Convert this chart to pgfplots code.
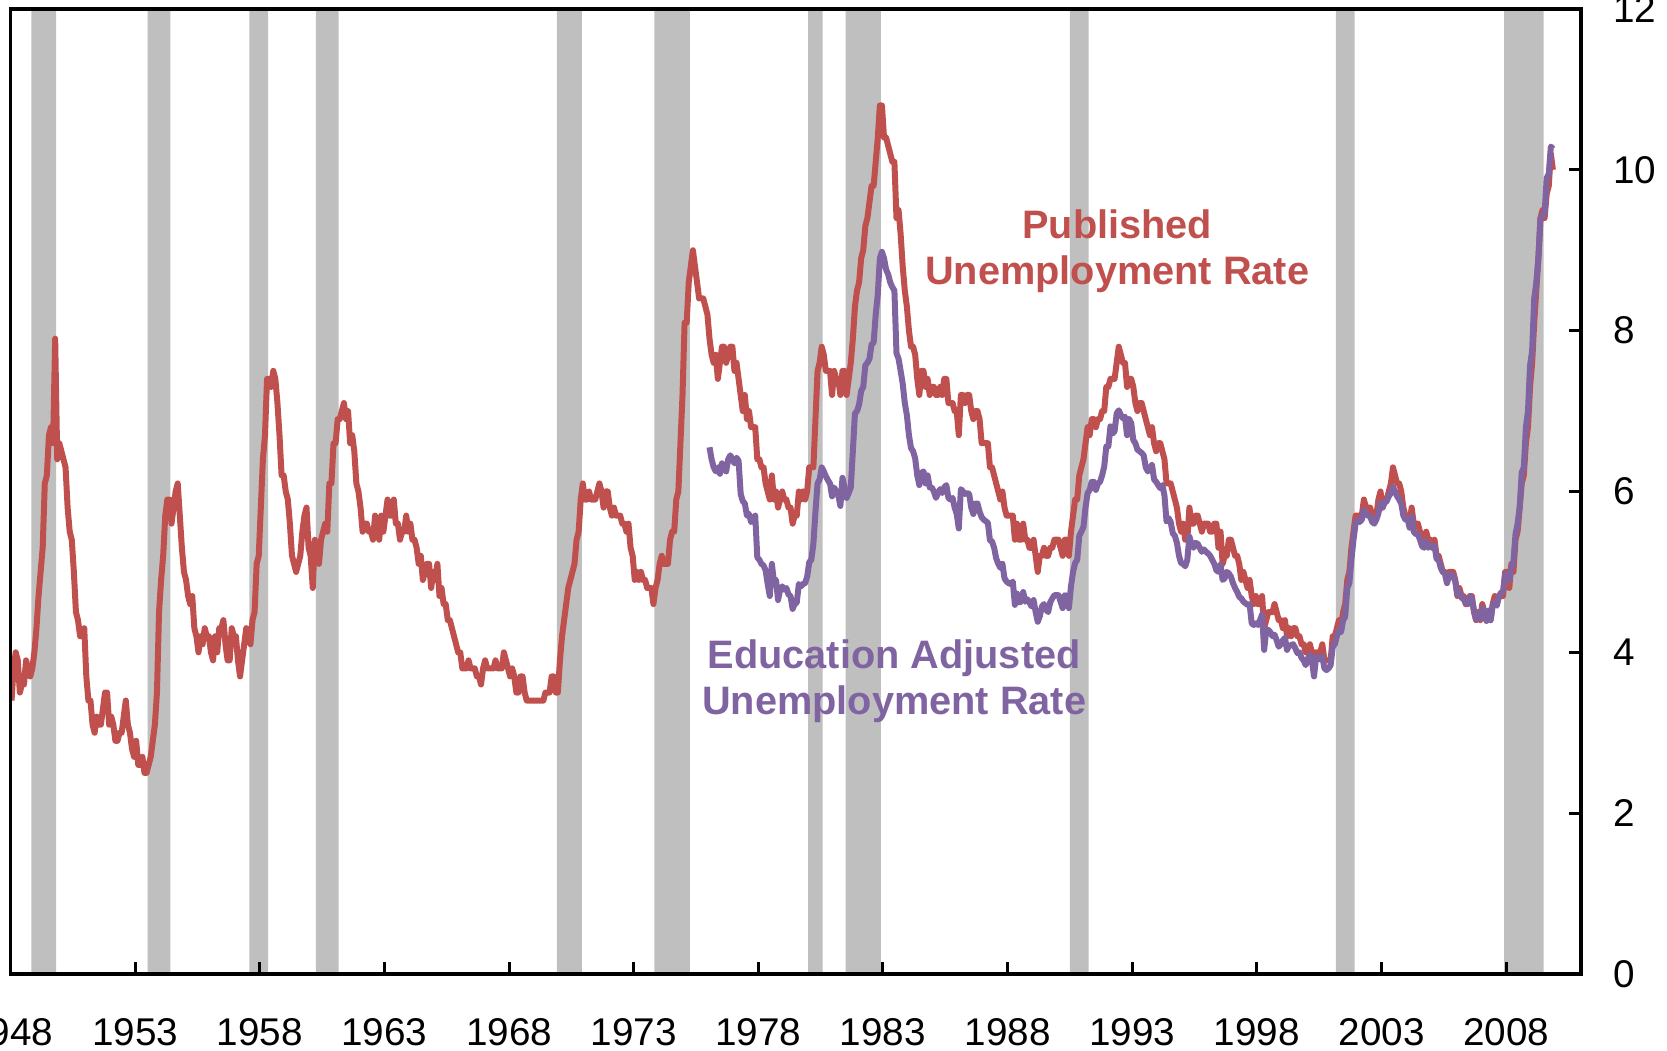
\documentclass[border=0pt]{standalone}
\usepackage{pgfplots}
\usepackage{pgfplotstable}
\usepackage{fontspec}
\setmainfont{Liberation Sans}
\pgfplotsset{compat=1.18}
\definecolor{pubred}{HTML}{C0504D}
\definecolor{edupurple}{HTML}{8064A2}
\definecolor{recgray}{HTML}{BFBFBF}

% Published unemployment rate, monthly, Jan 1948 - Nov 2009
\pgfplotstableread[row sep=\\,col sep=&]{
u\\
3.4\\3.8\\4.0\\3.9\\3.5\\3.6\\3.6\\3.9\\3.8\\3.7\\3.8\\4.0\\
4.3\\4.7\\5.0\\5.3\\6.1\\6.2\\6.7\\6.8\\6.6\\7.9\\6.4\\6.6\\
6.5\\6.4\\6.3\\5.8\\5.5\\5.4\\5.0\\4.5\\4.4\\4.2\\4.2\\4.3\\
3.7\\3.4\\3.4\\3.1\\3.0\\3.2\\3.1\\3.1\\3.3\\3.5\\3.5\\3.1\\
3.2\\3.1\\2.9\\2.9\\3.0\\3.0\\3.2\\3.4\\3.1\\3.0\\2.8\\2.7\\
2.9\\2.6\\2.6\\2.7\\2.5\\2.5\\2.6\\2.7\\2.9\\3.1\\3.5\\4.5\\
4.9\\5.2\\5.7\\5.9\\5.9\\5.6\\5.8\\6.0\\6.1\\5.7\\5.3\\5.0\\
4.9\\4.7\\4.6\\4.7\\4.3\\4.2\\4.0\\4.2\\4.1\\4.3\\4.2\\4.2\\
4.0\\3.9\\4.2\\4.0\\4.3\\4.3\\4.4\\4.1\\3.9\\3.9\\4.3\\4.2\\
4.2\\3.9\\3.7\\3.9\\4.1\\4.3\\4.2\\4.1\\4.4\\4.5\\5.1\\5.2\\
5.8\\6.4\\6.7\\7.4\\7.4\\7.3\\7.5\\7.4\\7.1\\6.7\\6.2\\6.2\\
6.0\\5.9\\5.6\\5.2\\5.1\\5.0\\5.1\\5.2\\5.5\\5.7\\5.8\\5.3\\
5.2\\4.8\\5.4\\5.2\\5.1\\5.4\\5.5\\5.6\\5.5\\6.1\\6.1\\6.6\\
6.6\\6.9\\6.9\\7.0\\7.1\\6.9\\7.0\\6.6\\6.7\\6.5\\6.1\\6.0\\
5.8\\5.5\\5.6\\5.6\\5.5\\5.5\\5.4\\5.7\\5.6\\5.4\\5.7\\5.5\\
5.7\\5.9\\5.7\\5.7\\5.9\\5.6\\5.6\\5.4\\5.5\\5.5\\5.7\\5.5\\
5.6\\5.4\\5.4\\5.3\\5.1\\5.2\\4.9\\5.0\\5.1\\5.1\\4.8\\5.0\\
4.9\\5.1\\4.7\\4.8\\4.6\\4.6\\4.4\\4.4\\4.3\\4.2\\4.1\\4.0\\
4.0\\3.8\\3.8\\3.8\\3.9\\3.8\\3.8\\3.8\\3.7\\3.7\\3.6\\3.8\\
3.9\\3.8\\3.8\\3.8\\3.8\\3.9\\3.8\\3.8\\3.8\\4.0\\3.9\\3.8\\
3.7\\3.8\\3.7\\3.5\\3.5\\3.7\\3.7\\3.5\\3.4\\3.4\\3.4\\3.4\\
3.4\\3.4\\3.4\\3.4\\3.4\\3.5\\3.5\\3.5\\3.7\\3.7\\3.5\\3.5\\
3.9\\4.2\\4.4\\4.6\\4.8\\4.9\\5.0\\5.1\\5.4\\5.5\\5.9\\6.1\\
5.9\\5.9\\6.0\\5.9\\5.9\\5.9\\6.0\\6.1\\6.0\\5.8\\6.0\\6.0\\
5.8\\5.7\\5.8\\5.7\\5.7\\5.7\\5.6\\5.6\\5.5\\5.6\\5.3\\5.2\\
4.9\\5.0\\4.9\\5.0\\4.9\\4.9\\4.8\\4.8\\4.8\\4.6\\4.8\\4.9\\
5.1\\5.2\\5.1\\5.1\\5.1\\5.4\\5.5\\5.5\\5.9\\6.0\\6.6\\7.2\\
8.1\\8.1\\8.6\\8.8\\9.0\\8.8\\8.6\\8.4\\8.4\\8.4\\8.3\\8.2\\
7.9\\7.7\\7.6\\7.7\\7.4\\7.6\\7.8\\7.8\\7.6\\7.7\\7.8\\7.8\\
7.5\\7.6\\7.4\\7.2\\7.0\\7.2\\6.9\\7.0\\6.8\\6.8\\6.8\\6.4\\
6.4\\6.3\\6.3\\6.1\\6.0\\5.9\\6.2\\5.9\\6.0\\5.8\\5.9\\6.0\\
5.9\\5.9\\5.8\\5.8\\5.6\\5.7\\5.7\\6.0\\5.9\\6.0\\5.9\\6.0\\
6.3\\6.3\\6.3\\6.9\\7.5\\7.6\\7.8\\7.7\\7.5\\7.5\\7.5\\7.2\\
7.5\\7.4\\7.4\\7.2\\7.5\\7.5\\7.2\\7.4\\7.6\\7.9\\8.3\\8.5\\
8.6\\8.9\\9.0\\9.3\\9.4\\9.6\\9.8\\9.8\\10.1\\10.4\\10.8\\10.8\\
10.4\\10.4\\10.3\\10.2\\10.1\\10.1\\9.4\\9.5\\9.2\\8.8\\8.5\\8.3\\
8.0\\7.8\\7.8\\7.7\\7.4\\7.2\\7.5\\7.5\\7.3\\7.4\\7.2\\7.3\\
7.3\\7.2\\7.2\\7.3\\7.2\\7.4\\7.4\\7.1\\7.1\\7.1\\7.0\\7.0\\
6.7\\7.2\\7.2\\7.1\\7.2\\7.2\\7.0\\6.9\\7.0\\7.0\\6.9\\6.6\\
6.6\\6.6\\6.6\\6.3\\6.3\\6.2\\6.1\\6.0\\5.9\\6.0\\5.8\\5.7\\
5.7\\5.7\\5.7\\5.4\\5.6\\5.4\\5.4\\5.6\\5.4\\5.4\\5.3\\5.3\\
5.4\\5.2\\5.0\\5.2\\5.2\\5.3\\5.2\\5.2\\5.3\\5.3\\5.4\\5.4\\
5.4\\5.3\\5.2\\5.4\\5.4\\5.2\\5.5\\5.7\\5.9\\5.9\\6.2\\6.3\\
6.4\\6.6\\6.8\\6.7\\6.9\\6.9\\6.8\\6.9\\6.9\\7.0\\7.0\\7.3\\
7.3\\7.4\\7.4\\7.4\\7.6\\7.8\\7.7\\7.6\\7.6\\7.3\\7.4\\7.4\\
7.3\\7.1\\7.0\\7.1\\7.1\\7.0\\6.9\\6.8\\6.7\\6.8\\6.6\\6.5\\
6.6\\6.6\\6.5\\6.4\\6.1\\6.1\\6.1\\6.0\\5.9\\5.8\\5.6\\5.5\\
5.6\\5.4\\5.4\\5.8\\5.6\\5.6\\5.7\\5.7\\5.6\\5.5\\5.6\\5.6\\
5.6\\5.5\\5.5\\5.6\\5.6\\5.3\\5.5\\5.1\\5.2\\5.2\\5.4\\5.4\\
5.3\\5.2\\5.2\\5.1\\4.9\\5.0\\4.9\\4.8\\4.9\\4.7\\4.6\\4.7\\
4.6\\4.6\\4.7\\4.3\\4.4\\4.5\\4.5\\4.5\\4.6\\4.5\\4.4\\4.4\\
4.3\\4.4\\4.2\\4.3\\4.2\\4.3\\4.3\\4.2\\4.2\\4.1\\4.1\\4.0\\
4.0\\4.1\\4.0\\3.8\\4.0\\4.0\\4.0\\4.1\\3.9\\3.9\\3.9\\3.9\\
4.2\\4.2\\4.3\\4.4\\4.3\\4.5\\4.6\\4.9\\5.0\\5.3\\5.5\\5.7\\
5.7\\5.7\\5.7\\5.9\\5.8\\5.8\\5.8\\5.7\\5.7\\5.7\\5.9\\6.0\\
5.8\\5.9\\5.9\\6.0\\6.1\\6.3\\6.2\\6.1\\6.1\\6.0\\5.8\\5.7\\
5.7\\5.6\\5.8\\5.6\\5.6\\5.6\\5.5\\5.4\\5.4\\5.5\\5.4\\5.4\\
5.3\\5.4\\5.2\\5.2\\5.1\\5.0\\5.0\\4.9\\5.0\\5.0\\5.0\\4.9\\
4.7\\4.8\\4.7\\4.7\\4.6\\4.6\\4.7\\4.7\\4.5\\4.4\\4.5\\4.4\\
4.6\\4.5\\4.4\\4.5\\4.4\\4.6\\4.7\\4.6\\4.7\\4.7\\4.7\\5.0\\
5.0\\4.8\\5.1\\5.0\\5.4\\5.5\\5.8\\6.1\\6.2\\6.6\\6.8\\7.3\\
7.6\\8.1\\8.5\\8.9\\9.4\\9.5\\9.4\\9.7\\9.8\\10.2\\10.0\\
}\published

% Education adjusted unemployment rate, monthly, Jan 1976 - Nov 2009
\pgfplotstableread[row sep=\\,col sep=&]{
u\\
6.55\\6.40\\6.30\\6.25\\6.30\\6.22\\6.35\\6.30\\6.25\\6.40\\6.45\\6.40\\
6.35\\6.42\\6.38\\5.97\\5.88\\5.85\\5.70\\5.72\\5.62\\5.64\\5.70\\5.18\\
5.15\\5.10\\5.08\\5.02\\4.85\\4.70\\5.10\\4.88\\4.90\\4.65\\4.78\\4.82\\
4.78\\4.80\\4.72\\4.70\\4.54\\4.60\\4.62\\4.85\\4.82\\4.85\\4.86\\4.94\\
5.12\\5.15\\5.35\\5.75\\6.10\\6.15\\6.30\\6.25\\6.19\\6.14\\6.10\\5.94\\
6.05\\6.00\\5.95\\5.82\\6.17\\6.05\\5.92\\5.98\\6.05\\6.50\\6.97\\7.00\\
7.08\\7.25\\7.30\\7.57\\7.60\\7.65\\7.83\\7.85\\8.20\\8.45\\8.90\\8.98\\
8.90\\8.76\\8.70\\8.60\\8.54\\8.50\\7.72\\7.65\\7.50\\7.34\\7.10\\6.95\\
6.70\\6.54\\6.50\\6.41\\6.20\\6.08\\6.23\\6.25\\6.10\\6.20\\6.05\\6.05\\
6.00\\5.92\\5.98\\6.03\\5.98\\6.05\\6.08\\5.92\\5.90\\5.92\\5.80\\5.72\\
5.54\\6.03\\6.00\\5.97\\5.98\\5.97\\5.80\\5.72\\5.85\\5.85\\5.75\\5.68\\
5.65\\5.63\\5.61\\5.39\\5.38\\5.30\\5.17\\5.10\\5.05\\5.10\\4.92\\4.88\\
4.86\\4.85\\4.88\\4.59\\4.73\\4.62\\4.63\\4.75\\4.63\\4.66\\4.62\\4.57\\
4.65\\4.50\\4.38\\4.45\\4.57\\4.60\\4.53\\4.50\\4.62\\4.67\\4.71\\4.71\\
4.71\\4.63\\4.55\\4.71\\4.70\\4.55\\4.82\\5.00\\5.11\\5.15\\5.45\\5.50\\
5.56\\5.80\\5.98\\6.02\\6.12\\6.12\\6.02\\6.10\\6.12\\6.20\\6.31\\6.56\\
6.56\\6.81\\6.72\\6.75\\6.97\\7.01\\6.95\\6.91\\6.93\\6.70\\6.90\\6.85\\
6.64\\6.60\\6.52\\6.50\\6.48\\6.45\\6.30\\6.25\\6.28\\6.33\\6.15\\6.12\\
6.08\\6.04\\6.08\\5.95\\5.63\\5.67\\5.62\\5.48\\5.45\\5.36\\5.20\\5.11\\
5.10\\5.07\\5.15\\5.44\\5.35\\5.30\\5.36\\5.35\\5.30\\5.25\\5.28\\5.25\\
5.23\\5.20\\5.15\\5.10\\5.02\\5.00\\5.09\\4.90\\4.92\\5.00\\4.98\\4.94\\
4.86\\4.80\\4.75\\4.69\\4.67\\4.63\\4.61\\4.59\\4.60\\4.36\\4.34\\4.36\\
4.34\\4.40\\4.47\\4.03\\4.28\\4.28\\4.25\\4.20\\4.22\\4.15\\4.07\\4.10\\
4.15\\4.18\\4.03\\4.08\\4.09\\4.10\\4.05\\3.99\\4.00\\3.93\\3.90\\3.84\\
3.92\\3.97\\3.90\\3.70\\3.95\\3.93\\3.91\\3.95\\3.80\\3.78\\3.80\\3.84\\
4.07\\4.10\\4.20\\4.28\\4.25\\4.40\\4.44\\4.80\\4.86\\5.15\\5.40\\5.60\\
5.65\\5.62\\5.65\\5.77\\5.72\\5.70\\5.69\\5.62\\5.60\\5.65\\5.73\\5.86\\
5.80\\5.86\\5.88\\5.94\\5.98\\6.06\\6.00\\5.94\\5.90\\5.85\\5.70\\5.65\\
5.66\\5.55\\5.69\\5.50\\5.47\\5.47\\5.40\\5.32\\5.30\\5.38\\5.30\\5.33\\
5.30\\5.33\\5.16\\5.15\\5.05\\5.00\\4.98\\4.86\\4.95\\4.97\\4.95\\4.88\\
4.72\\4.75\\4.68\\4.66\\4.62\\4.60\\4.70\\4.66\\4.52\\4.41\\4.47\\4.42\\
4.55\\4.47\\4.39\\4.52\\4.40\\4.58\\4.62\\4.58\\4.70\\4.74\\4.76\\4.97\\
4.91\\4.90\\5.05\\5.13\\5.47\\5.60\\5.80\\6.24\\6.30\\6.80\\7.00\\7.57\\
7.75\\8.40\\8.60\\8.90\\9.40\\9.43\\9.45\\9.90\\9.95\\10.29\\10.26\\
}\education

\begin{document}
\begin{tikzpicture}
\begin{axis}[
  at={(0,0)}, anchor=south west,
  scale only axis,
  width=157.05mm, height=96.5mm,
  xmin=1948, xmax=2011, ymin=0, ymax=12,
  axis on top,
  axis line style={line width=0.37mm, black},
  xtick={1948,1953,...,2008},
  ytick={0,2,...,12},
  xtick pos=bottom,
  ytick pos=right,
  yticklabel pos=right,
  tick align=inside,
  major tick length=1.2mm,
  minor tick num=0,
  tick style={line width=0.3mm, black},
  tick label style={font=\fontsize{11}{13}\selectfont},
  /pgf/number format/assume math mode=true,
  /pgf/number format/1000 sep={},
  xticklabel style={yshift=-3.25mm},
  yticklabel style={anchor=west, xshift=2.0mm},
  clip=true,
]
% recession bars
\addplot[fill=recgray, draw=none, forget plot] coordinates {(1948.833,0) (1948.833,12) (1949.833,12) (1949.833,0)} \closedcycle;
\addplot[fill=recgray, draw=none, forget plot] coordinates {(1953.500,0) (1953.500,12) (1954.417,12) (1954.417,0)} \closedcycle;
\addplot[fill=recgray, draw=none, forget plot] coordinates {(1957.583,0) (1957.583,12) (1958.333,12) (1958.333,0)} \closedcycle;
\addplot[fill=recgray, draw=none, forget plot] coordinates {(1960.250,0) (1960.250,12) (1961.167,12) (1961.167,0)} \closedcycle;
\addplot[fill=recgray, draw=none, forget plot] coordinates {(1969.917,0) (1969.917,12) (1970.917,12) (1970.917,0)} \closedcycle;
\addplot[fill=recgray, draw=none, forget plot] coordinates {(1973.833,0) (1973.833,12) (1975.250,12) (1975.250,0)} \closedcycle;
\addplot[fill=recgray, draw=none, forget plot] coordinates {(1980.000,0) (1980.000,12) (1980.583,12) (1980.583,0)} \closedcycle;
\addplot[fill=recgray, draw=none, forget plot] coordinates {(1981.500,0) (1981.500,12) (1982.917,12) (1982.917,0)} \closedcycle;
\addplot[fill=recgray, draw=none, forget plot] coordinates {(1990.500,0) (1990.500,12) (1991.250,12) (1991.250,0)} \closedcycle;
\addplot[fill=recgray, draw=none, forget plot] coordinates {(2001.167,0) (2001.167,12) (2001.917,12) (2001.917,0)} \closedcycle;
\addplot[fill=recgray, draw=none, forget plot] coordinates {(2007.917,0) (2007.917,12) (2009.500,12) (2009.500,0)} \closedcycle;
% series
\addplot[pubred, line width=0.6mm, line join=round, no marks]
  table[x expr={1948+(\coordindex+0.5)/12}, y=u] {\published};
\addplot[edupurple, line width=0.6mm, line join=round, no marks]
  table[x expr={1976+(\coordindex+0.5)/12}, y=u] {\education};
% labels
\node[pubred, anchor=base, font=\bfseries\fontsize{11.3}{13}\selectfont] at (axis cs:1992.4,9.14) {Published};
\node[pubred, anchor=base, font=\bfseries\fontsize{11.3}{13}\selectfont] at (axis cs:1992.4,8.58) {Unemployment Rate};
\node[edupurple, anchor=base, font=\bfseries\fontsize{11.3}{13}\selectfont] at (axis cs:1983.45,3.80) {Education Adjusted};
\node[edupurple, anchor=base, font=\bfseries\fontsize{11.3}{13}\selectfont] at (axis cs:1983.45,3.23) {Unemployment Rate};
\end{axis}
\pgfresetboundingbox
\path[use as bounding box] (-1.05mm,-7.7mm) rectangle (165.65mm,97.4mm);
\end{tikzpicture}
\end{document}
